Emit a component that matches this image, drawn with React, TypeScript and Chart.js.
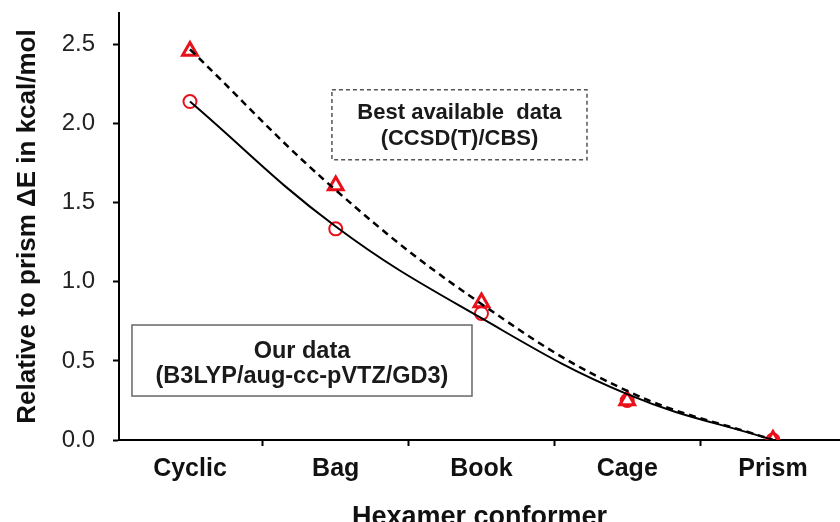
import React, { useEffect, useRef } from "react";
import { Chart, registerables } from "chart.js";

Chart.register(...registerables);

const categories = ["Cyclic", "Bag", "Book", "Cage", "Prism"];
const ourData = [2.14, 1.335, 0.8, 0.25, 0.0];
const bestData = [2.46, 1.61, 0.87, 0.25, 0.0];
const ourTrend = [2.14, 1.35, 0.77, 0.29, 0.0];
const bestTrend = [2.47, 1.58, 0.86, 0.31, 0.0];
const yTicks = [0, 0.5, 1.0, 1.5, 2.0, 2.5];

const RED = "#e8101a";
const FONT = "'Liberation Sans', Arial, sans-serif";

const toXY = (arr: number[]) => arr.map((v, i) => ({ x: i, y: v }));

const zeroPad = (s: any) => {
  s.paddingTop = 0;
  s.paddingBottom = 0;
  s.paddingLeft = 0;
  s.paddingRight = 0;
};

const boxesPlugin = {
  id: "textBoxes",
  afterDraw(chart: any) {
    const { ctx } = chart;
    const xs = chart.scales.x;
    const ys = chart.scales.y;
    const boxes = [
      {
        x0: 0.974, x1: 2.724, y0: 2.215, y1: 1.772,
        lines: ["Best available  data", "(CCSD(T)/CBS)"],
        offs: [23, 49], size: 22, dash: [4, 3], color: "#555",
      },
      {
        x0: -0.398, x1: 1.935, y0: 0.727, y1: 0.278,
        lines: ["Our data", "(B3LYP/aug-cc-pVTZ/GD3)"],
        offs: [26, 51], size: 23.5, dash: [], color: "#666",
      },
    ];
    ctx.save();
    for (const b of boxes) {
      const l = xs.getPixelForValue(b.x0);
      const r = xs.getPixelForValue(b.x1);
      const t = ys.getPixelForValue(b.y0);
      const btm = ys.getPixelForValue(b.y1);
      ctx.fillStyle = "#fff";
      ctx.fillRect(l, t, r - l, btm - t);
      ctx.setLineDash(b.dash);
      ctx.lineWidth = 1.5;
      ctx.strokeStyle = b.color;
      ctx.strokeRect(l, t, r - l, btm - t);
      ctx.setLineDash([]);
      ctx.fillStyle = "#1a1a1a";
      ctx.font = `bold ${b.size}px ${FONT}`;
      ctx.textAlign = "center";
      ctx.textBaseline = "middle";
      b.lines.forEach((s, i) => ctx.fillText(s, (l + r) / 2, t + b.offs[i]));
    }
    ctx.restore();
  },
};

export default function App() {
  const ref = useRef<HTMLCanvasElement | null>(null);
  useEffect(() => {
    if (!ref.current) return;
    const chart = new Chart(ref.current, {
      type: "line",
      data: {
        datasets: [
          {
            label: "Our trend",
            data: toXY(ourTrend),
            borderColor: "#000",
            borderWidth: 2,
            pointRadius: 0,
            tension: 0.4,
            fill: false,
          },
          {
            label: "Best trend",
            data: toXY(bestTrend),
            borderColor: "#000",
            borderWidth: 2.5,
            borderDash: [7, 5],
            pointRadius: 0,
            tension: 0.4,
            fill: false,
          },
          {
            label: "Our data",
            data: toXY(ourData),
            showLine: false,
            pointStyle: "circle",
            pointRadius: 6.5,
            pointBorderWidth: 2,
            pointBorderColor: RED,
            pointBackgroundColor: "rgba(0,0,0,0)",
          },
          {
            label: "Best available data",
            data: toXY(bestData),
            showLine: false,
            pointStyle: "triangle",
            pointRadius: 8.5,
            pointBorderWidth: 3,
            pointBorderColor: RED,
            pointBackgroundColor: "rgba(0,0,0,0)",
          },
        ],
      },
      options: {
        animation: false,
        responsive: false,
        layout: { autoPadding: false, padding: { top: 13, left: 0, right: 0, bottom: 0 } },
        plugins: { legend: { display: false }, tooltip: { enabled: false } },
        scales: {
          x: {
            type: "linear",
            min: -0.487,
            max: 4.46,
            afterFit: (s: any) => { s.height = 82; zeroPad(s); },
            border: { display: true, color: "#000", width: 2 },
            grid: {
              offset: true,
              drawOnChartArea: false,
              drawTicks: true,
              tickLength: 6,
              tickColor: "#000",
              tickWidth: 2,
            },
            ticks: {
              stepSize: 1,
              includeBounds: false,
              autoSkip: false,
              maxRotation: 0,
              padding: 8,
              color: "#111",
              font: { family: FONT, size: 25, weight: "bold" },
              callback: (v: any) => {
                const i = Math.round(Number(v));
                return Math.abs(Number(v) - i) < 1e-6 ? categories[i] ?? "" : "";
              },
            },
            title: {
              display: true,
              text: "Hexamer conformer",
              color: "#111",
              font: { family: FONT, size: 27, weight: "bold" },
              padding: { top: 0, bottom: -12 },
            },
          },
          y: {
            type: "linear",
            min: 0,
            max: 2.7,
            afterFit: (s: any) => { s.width = 119; zeroPad(s); },
            afterBuildTicks: (s: any) => { s.ticks = yTicks.map((v) => ({ value: v })); },
            border: { display: true, color: "#000", width: 2 },
            grid: {
              drawOnChartArea: false,
              drawTicks: true,
              tickLength: 6,
              tickColor: "#000",
              tickWidth: 2,
            },
            ticks: {
              padding: 18,
              color: "#222",
              font: { family: FONT, size: 24 },
              callback: (v: any) => Number(v).toFixed(1),
            },
            title: {
              display: true,
              text: "Relative to prism ΔE in kcal/mol",
              color: "#111",
              font: { family: FONT, size: 26, weight: "bold" },
              padding: { top: 12, bottom: 0 },
            },
          },
        },
      } as any,
      plugins: [boxesPlugin],
    });
    return () => chart.destroy();
  }, []);
  return (
    <div style={{ position: "absolute", left: 0, top: 0, width: 840, height: 522, background: "#fff" }}>
      <canvas ref={ref} width={840} height={522} style={{ width: "840px", height: "522px" }} />
    </div>
  );
}
